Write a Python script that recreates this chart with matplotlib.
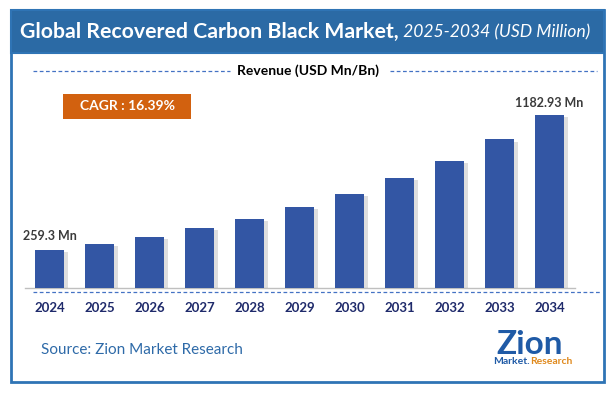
import matplotlib
matplotlib.use("Agg")
import matplotlib.pyplot as plt
from matplotlib.patches import Rectangle
from matplotlib import font_manager
import matplotlib.patheffects as pe

years = ["2024", "2025", "2026", "2027", "2028", "2029", "2030", "2031", "2032", "2033", "2034"]
revenue = [259.3, 301, 351, 408, 475, 553, 645, 750, 872, 1016, 1182.93]
first_label = "259.3 Mn"
last_label = "1182.93 Mn"
title_bold = "Global Recovered Carbon Black Market,"
title_rest = " 2025-2034 (USD Million)"
subtitle = "Revenue (USD Mn/Bn)"
cagr_text = "CAGR : 16.39%"
source_text = "Source: Zion Market Research"

W, H = 616, 398
FONT = "Lato"
plt.rcParams["font.family"] = [FONT, "DejaVu Sans"]

installed = {f.name for f in font_manager.fontManager.ttflist}
if "Liberation Sans Narrow" in installed:
    ital_family, ital_size = "Liberation Sans Narrow", 14.5
else:
    ital_family, ital_size = "Lato", 12.6

fig = plt.figure(figsize=(W / 100, H / 100), dpi=100)
fig.patch.set_facecolor("white")

bg = fig.add_axes([0, 0, 1, 1])
bg.set_xlim(0, W)
bg.set_ylim(H, 0)
bg.axis("off")

# outer frame
frame_col = "#2f74b5"
bg.add_patch(Rectangle((10.5, 10), 593.5, 372, fill=False, edgecolor=frame_col, lw=2.0))
# title bar
bg.add_patch(Rectangle((10.5, 10), 593.5, 43, facecolor="#2b6aa5", edgecolor=frame_col, lw=1.5))

t1 = bg.text(20, 32, title_bold, color="white", fontsize=15.3, fontweight="bold",
             va="center", ha="left")
bg.annotate(title_rest, xy=(1, 0.5), xycoords=t1, va="center", ha="left",
            color="white", fontsize=ital_size, style="italic", family=ital_family,
            annotation_clip=False)

# subtitle with dashed lines
dash_col = "#4472c4"
bg.text(308, 71, subtitle, ha="center", va="center", fontsize=10, fontweight="bold", color="black")
bg.plot([33, 230], [71, 71], color=dash_col, lw=0.9, ls=(0, (3, 2)))
bg.plot([390, 597], [71, 71], color=dash_col, lw=0.9, ls=(0, (3, 2)))

# dashed line below axis
bg.plot([33, 600], [292, 292], color=dash_col, lw=0.9, ls=(0, (3, 2)))

# CAGR box
bg.add_patch(Rectangle((63, 94), 128, 25, facecolor="#d2610f", edgecolor="none"))
bg.text(127, 106.5, cagr_text, ha="center", va="center", color="white",
        fontsize=10, fontweight="bold")

# source
bg.text(41, 350, source_text, ha="left", va="center", color="#2e6aa8", fontsize=11)

# logo approximation
bg.text(530, 344, "Zion", ha="center", va="center", color="#1f5aa6",
        fontsize=24, fontweight="bold")
bg.text(530, 362, "Market.", ha="right", va="center", color="#1f5aa6",
        fontsize=7.5, fontweight="bold")
bg.text(530, 362, "Research", ha="left", va="center", color="#e08a1e",
        fontsize=7.5, fontweight="bold")


# main axes
def fx(v):
    return v / W


def fy(v):
    return 1 - v / H


ax = fig.add_axes([fx(24.5), fy(288), fx(574.5) - fx(24.5), fy(100) - fy(288)])
ax.set_xlim(-0.5, len(years) - 0.5)
ax.set_ylim(0, 188 * 6.84)
ax.set_facecolor("none")
for s in ["top", "right", "left"]:
    ax.spines[s].set_visible(False)
ax.spines["bottom"].set_color("#bfbfbf")
ax.spines["bottom"].set_linewidth(1.0)
ax.set_yticks([])
ax.set_xticks(range(len(years)))
ax.set_xticklabels(years, fontsize=9.5, fontweight="bold", color="#1f2a6b")
ax.tick_params(axis="x", length=0, pad=10)

x = list(range(len(years)))
bars = ax.bar(x, revenue, width=0.58, color="#3356a4", zorder=3)
for b in bars:
    b.set_path_effects([pe.SimplePatchShadow(offset=(3, -1.5), shadow_rgbFace="#7f7f7f", alpha=0.25),
                        pe.Normal()])

ax.annotate(first_label, xy=(x[0], revenue[0]), xytext=(0, 10), textcoords="offset points",
            ha="center", va="center", fontsize=9, fontweight="bold", color="#3a3a3a")
ax.annotate(last_label, xy=(x[-1], revenue[-1]), xytext=(0, 9), textcoords="offset points",
            ha="center", va="center", fontsize=9, fontweight="bold", color="#3a3a3a")

fig.savefig("out.png", dpi=100, facecolor="white")
